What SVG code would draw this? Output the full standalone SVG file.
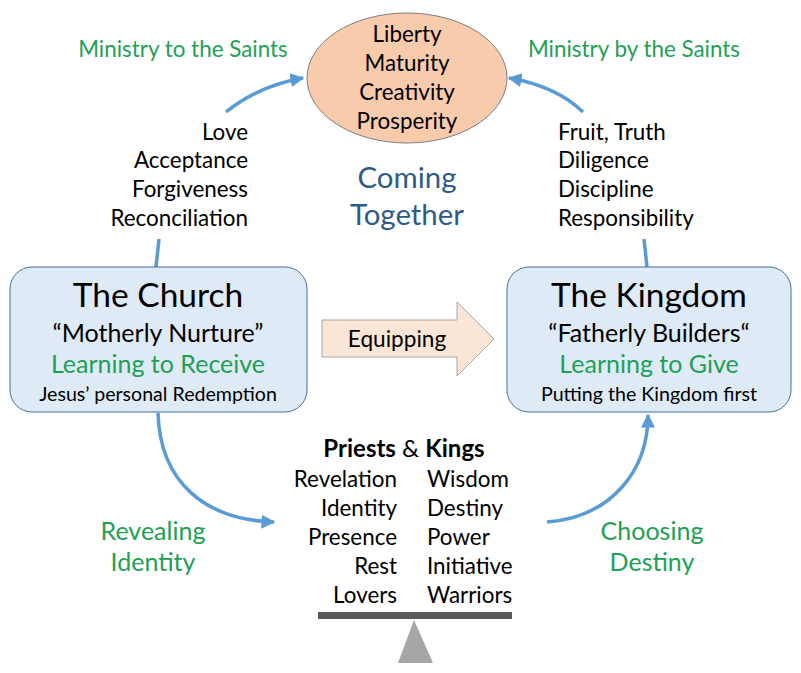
<svg xmlns="http://www.w3.org/2000/svg" width="801" height="673" viewBox="0 0 801 673">
<defs>
<marker id="ah" viewBox="0 0 10 10" refX="9" refY="5" markerWidth="4" markerHeight="4" orient="auto" markerUnits="strokeWidth">
<path d="M0,0 L10,5 L0,10 Z" fill="#5B9BD5"/>
</marker>
<style>
text{font-family:Lato,"Liberation Sans",sans-serif;fill:#000}
.l{font-size:22.4px}
.g{fill:#21A055}
.e{font-size:22.4px;text-anchor:middle}
.box{fill:#DEEBF7;stroke:#41719C;stroke-width:1}
.t{font-size:33.5px;text-anchor:middle}
.s{font-size:25px;text-anchor:middle}
.f{font-size:19.6px;text-anchor:middle}
.c{stroke:#5B9BD5;stroke-width:3.5;fill:none}
.b{font-weight:bold}
.m{text-anchor:middle}
.end{text-anchor:end}
.big{font-size:29.4px;fill:#2E5B87;text-anchor:middle}
.lg{font-size:25px;text-anchor:middle}
</style>
</defs>
<rect width="801" height="673" fill="#fff"/>
<g id="connectors">
<path class="c" d="M226,112 Q258,86 303,78" marker-end="url(#ah)"/>
<path class="c" d="M583,112 Q556,86 509,78" marker-end="url(#ah)"/>
<path class="c" d="M159,239 L156,267"/>
<path class="c" d="M644,239 L647,267"/>
<path class="c" d="M158,413 C160,482 205,520 274,522" marker-end="url(#ah)"/>
<path class="c" d="M547,522 C612,517 648,470 648,415" marker-end="url(#ah)"/>
</g>
<g id="goal">
<ellipse cx="407" cy="78" rx="100" ry="65" fill="#F8CBAD" stroke="#7F7F7F" stroke-width="1"/>
<text class="e" x="407" y="42">Liberty</text>
<text class="e" x="407" y="71">Maturity</text>
<text class="e" x="407" y="100">Creativity</text>
<text class="e" x="407" y="129">Prosperity</text>
</g>
<g id="labels-top">
<text class="l g m" x="183" y="57">Ministry to the Saints</text>
<text class="l g m" x="634" y="57">Ministry by the Saints</text>
<text class="l end" x="248" y="140">Love</text>
<text class="l end" x="248" y="168">Acceptance</text>
<text class="l end" x="248" y="197">Forgiveness</text>
<text class="l end" x="248" y="226">Reconciliation</text>
<text class="l" x="558" y="140">Fruit, Truth</text>
<text class="l" x="558" y="168">Diligence</text>
<text class="l" x="558" y="197">Discipline</text>
<text class="l" x="558" y="226">Responsibility</text>
<text class="big" x="407" y="188">Coming</text>
<text class="big" x="407" y="225">Together</text>
</g>
<g id="church">
<rect class="box" x="10" y="267" width="297" height="145" rx="22"/>
<text class="t" x="158" y="307">The Church</text>
<text class="s" x="158" y="342">“Motherly Nurture”</text>
<text class="s g" x="158" y="373">Learning to Receive</text>
<text class="f" x="158" y="401">Jesus’ personal Redemption</text>
</g>
<g id="kingdom">
<rect class="box" x="507" y="267" width="284" height="145" rx="22"/>
<text class="t" x="649" y="307">The Kingdom</text>
<text class="s" x="649" y="342">“Fatherly Builders“</text>
<text class="s g" x="649" y="373">Learning to Give</text>
<text class="f" x="649" y="401">Putting the Kingdom first</text>
</g>
<g id="equipping">
<path d="M322,320 L457,320 L457,302 L494,339 L457,376 L457,357 L322,357 Z" fill="#FBE5D6" stroke="#A6A6A6" stroke-width="1"/>
<text class="m" x="397" y="347" style="font-size:22.6px">Equipping</text>
</g>
<g id="balance">
<text x="404" y="457" class="m" style="font-size:24px"><tspan class="b">Priests</tspan> &amp; <tspan class="b">Kings</tspan></text>
<text class="l end" x="397" y="487">Revelation</text>
<text class="l end" x="397" y="516">Identity</text>
<text class="l end" x="397" y="545">Presence</text>
<text class="l end" x="397" y="574">Rest</text>
<text class="l end" x="397" y="603">Lovers</text>
<text class="l" x="427" y="487">Wisdom</text>
<text class="l" x="427" y="516">Destiny</text>
<text class="l" x="427" y="545">Power</text>
<text class="l" x="427" y="574">Initiative</text>
<text class="l" x="427" y="603">Warriors</text>
<rect x="318" y="612" width="194" height="7" fill="#595959"/>
<path d="M414,620 L433,663 L398,663 Z" fill="#A6A6A6"/>
</g>
<g id="labels-bottom">
<text class="lg g" x="153" y="540">Revealing</text>
<text class="lg g" x="153" y="571">Identity</text>
<text class="lg g" x="652" y="540">Choosing</text>
<text class="lg g" x="652" y="571">Destiny</text>
</g>
</svg>
